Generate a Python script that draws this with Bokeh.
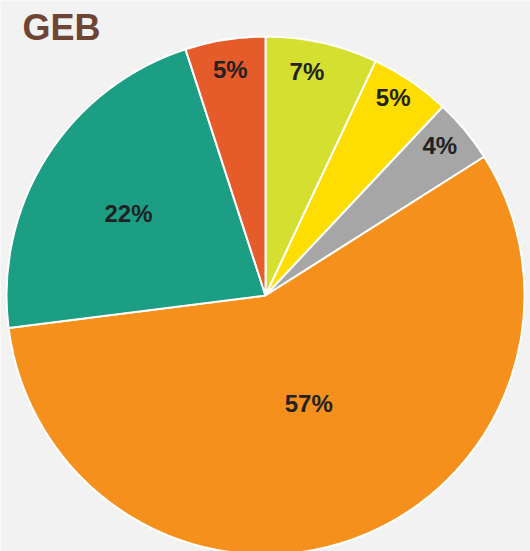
import math
from bokeh.plotting import figure
from bokeh.models import Range1d, ColumnDataSource
from bokeh.core.properties import value
from bokeh.embed import file_html
from bokeh.resources import INLINE

title = "GEB"
shares = [7, 5, 4, 57, 22, 5]
labels = ["7%", "5%", "4%", "57%", "22%", "5%"]
colors = ["#D4DF30", "#FEDD00", "#A6A6A6", "#F6901C", "#1B9E83", "#E55B29"]
# layout: label distance from centre as fraction of radius, and angle nudge (deg)
label_r = [0.87, 0.90, 0.88, 0.46, 0.61, 0.87]
label_da = [2.0, 1.0, 0.5, 1.5, 2.5, 0.0]

W, H = 530, 551
cx, cy, R = 265, H - 295, 259

p = figure(width=W, height=H, x_range=Range1d(0, W), y_range=Range1d(0, H),
           output_backend="svg", toolbar_location=None, min_border=0)
p.axis.visible = False
p.grid.visible = False
p.outline_line_color = None
p.background_fill_color = "#F2F2F2"
p.border_fill_color = "#F2F2F2"

total = sum(shares)
starts, ends, lx, ly = [], [], [], []
cum = 0
for s, lr, da in zip(shares, label_r, label_da):
    a0 = math.pi / 2 - 2 * math.pi * (cum + s) / total
    a1 = math.pi / 2 - 2 * math.pi * cum / total
    starts.append(a0)
    ends.append(a1)
    mid = (a0 + a1) / 2 + math.radians(da)
    lx.append(cx + lr * R * math.cos(mid))
    ly.append(cy + lr * R * math.sin(mid) + 3)
    cum += s

src = ColumnDataSource(dict(start=starts, end=ends, color=colors, lx=lx, ly=ly, label=labels))
p.wedge(x=cx, y=cy, radius=R, start_angle="start", end_angle="end",
        fill_color="color", line_color="white", line_width=2, source=src)
p.text(x="lx", y="ly", text="label", source=src, text_align="center",
       text_baseline="middle", text_font=value("Liberation Sans"),
       text_font_style="bold", text_font_size="24px", text_color="#222222")

p.text(x=[22], y=[H - 27], text=[title], text_align="left", text_baseline="alphabetic",
       text_font=value("Liberation Sans"), text_font_style="bold",
       text_font_size="36px", text_color="#6E4535")

open("out.html", "w").write(file_html(p, INLINE))
